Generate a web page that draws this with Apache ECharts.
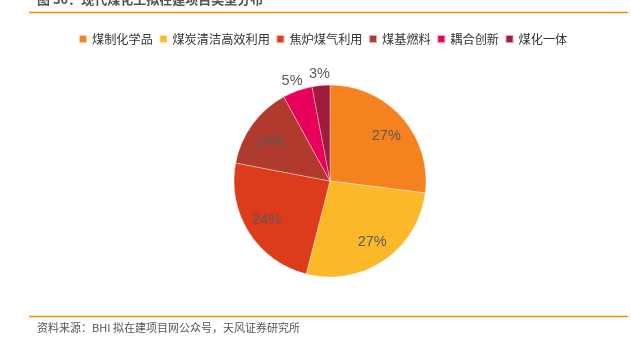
<!DOCTYPE html>
<html><head><meta charset="utf-8">
<script src="https://cdn.jsdelivr.net/npm/echarts@6/dist/echarts.min.js"></script>
<style>html,body{margin:0;padding:0;background:#fff}#c{width:631px;height:346px}</style>
</head><body><div id="c"></div>
<script>
var categories = ['煤制化学品','煤炭清洁高效利用','焦炉煤气利用','煤基燃料','耦合创新','煤化一体'];
var values = [27, 27, 24, 14, 5, 3];
var colors = ['#F5821F','#FBB92A','#DC3C1B','#B03A2E','#E8005A','#A21B3E'];
var insideLabelMin = 10;

var chart = echarts.init(document.getElementById('c'), null, {renderer:'canvas'});
var center = [330, 181];
var fontLab = 'Liberation Sans, Arial, sans-serif';
var total = values.reduce(function(a,b){return a+b;},0);
function mk(showFn){
  var cum = 0;
  return categories.map(function(n,i){
    var mid = (cum + values[i]/2)/total*2*Math.PI; cum += values[i];
    var upper = Math.cos(mid) > 0;
    return {name:n, value:values[i], label:{show:showFn(values[i]), offset:[0, upper ? 5 : -1]}};
  });
}
var option = {
  animation:false,
  color: colors,
  legend:{
    left:78, top:33, padding:0, itemWidth:8, itemHeight:8, itemGap:5.5,
    icon:'rect',
    textStyle:{fontSize:12.2, color:'#333', fontFamily:'Noto Sans CJK SC'},
    data: categories
  },
  graphic:[
    {type:'text', left:37, top:-7, style:{text:'图 30：现代煤化工拟在建项目类型分布', font:'bold 13px "Noto Sans CJK SC"', fill:'#555'}},
    {type:'line', shape:{x1:29,y1:12.5,x2:628,y2:12.5}, style:{stroke:'#F5821F', lineWidth:1.5}},
    {type:'line', shape:{x1:29,y1:316.5,x2:628,y2:316.5}, style:{stroke:'#F5821F', lineWidth:1.5}},
    {type:'text', left:37, top:322, style:{text:'资料来源：BHI 拟在建项目网公众号，天风证券研究所', font:'11px "Noto Sans CJK SC"', fill:'#555'}}
  ],
  series:[
    {type:'pie', center:center, radius:[0,96], startAngle:90, clockwise:true,
     data: categories.map(function(n,i){return {name:n,value:values[i]};}),
     label:{show:false}, labelLine:{show:false},
     itemStyle:{borderColor:'rgba(255,255,255,0.6)', borderWidth:0.6},
     emphasis:{disabled:true}},
    {type:'pie', center:center, radius:[48,96], startAngle:90, clockwise:true, silent:true,
     data: mk(function(v){return v>=insideLabelMin;}),
     itemStyle:{color:'rgba(0,0,0,0)'}, labelLine:{show:false},
     label:{position:'inside', formatter:'{c}%', fontSize:14.5, color:'#595959', fontFamily:fontLab},
     emphasis:{disabled:true}},
    {type:'pie', center:center, radius:[100,118], startAngle:90, clockwise:true, silent:true,
     data: mk(function(v){return v<insideLabelMin;}),
     itemStyle:{color:'rgba(0,0,0,0)'}, labelLine:{show:false},
     label:{position:'inside', formatter:'{c}%', fontSize:14.5, color:'#595959', fontFamily:fontLab},
     emphasis:{disabled:true}}
  ]
};
chart.setOption(option);
</script></body></html>
